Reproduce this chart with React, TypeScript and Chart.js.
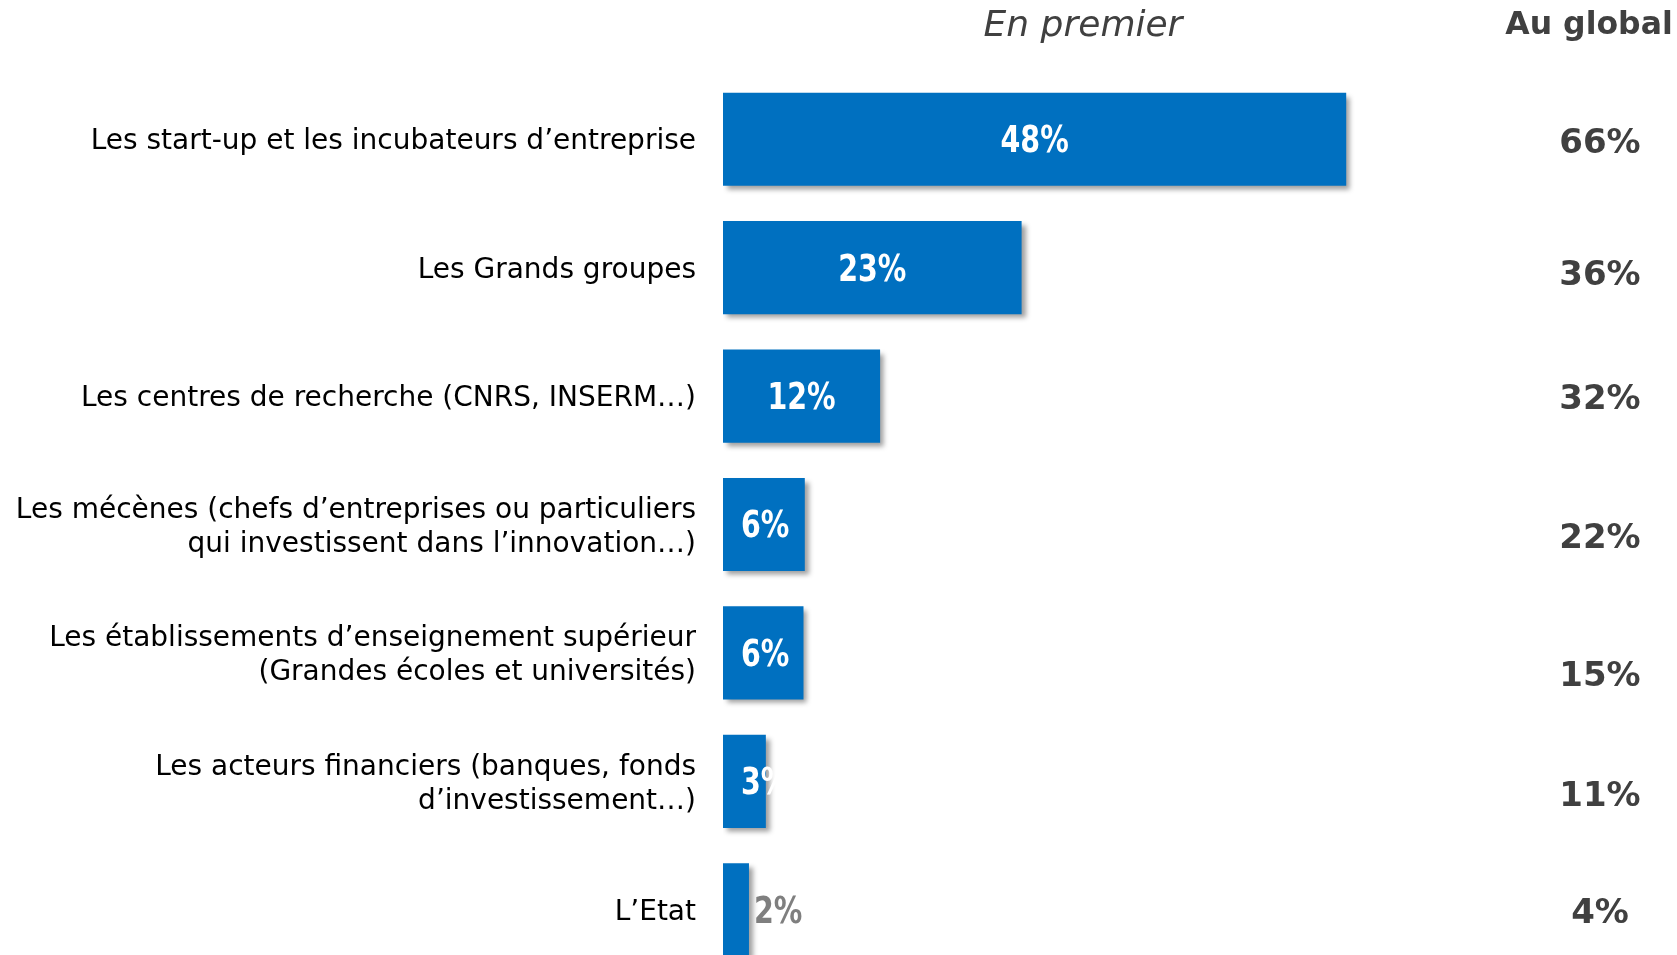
import React, { useEffect, useRef } from "react";
import { Chart, registerables } from "chart.js";

Chart.register(...registerables);

const categories: string[][] = [
  ["Les start-up et les incubateurs d’entreprise"],
  ["Les Grands groupes"],
  ["Les centres de recherche (CNRS, INSERM…)"],
  ["Les mécènes (chefs d’entreprises ou particuliers", "qui investissent dans l’innovation…)"],
  ["Les établissements d’enseignement supérieur", "(Grandes écoles et universités)"],
  ["Les acteurs financiers (banques, fonds", "d’investissement…)"],
  ["L’Etat"],
];
const firstValues: number[] = [48, 23, 12.1, 6.3, 6.2, 3.3, 2];
const firstLabels: string[] = ["48%", "23%", "12%", "6%", "6%", "3%", "2%"];
const globalLabels: string[] = ["66%", "36%", "32%", "22%", "15%", "11%", "4%"];
const headerFirst = "En premier";
const headerGlobal = "Au global";

// vertical nudges (px) of the "Au global" column, style only
const globalNudge: number[] = [1.5, 5.5, 1, 12, 21, 13, 1];

const BAR_COLOR = "#0070C0";

const overlayPlugin = {
  id: "overlay",
  beforeDatasetsDraw(chart: any) {
    const ctx = chart.ctx;
    ctx.save();
    ctx.shadowColor = "rgba(0,0,0,0.38)";
    ctx.shadowOffsetX = 4;
    ctx.shadowOffsetY = 4;
    ctx.shadowBlur = 5;
  },
  afterDatasetsDraw(chart: any) {
    chart.ctx.restore();
  },
  afterDraw(chart: any) {
    const ctx = chart.ctx;
    const meta = chart.getDatasetMeta(0);
    const yScale = chart.scales.y;
    ctx.save();
    // headers
    ctx.textBaseline = "middle";
    ctx.textAlign = "center";
    ctx.fillStyle = "#404040";
    ctx.font = "oblique 36px 'DejaVu Sans'";
    ctx.fillText(headerFirst, 1083, 27);
    ctx.font = "bold 31.5px 'DejaVu Sans'";
    ctx.fillText(headerGlobal, 1589, 26);

    categories.forEach((lines, i) => {
      const yc = yScale.getPixelForValue(i) + 3;
      // category labels
      ctx.font = "28px 'DejaVu Sans'";
      ctx.fillStyle = "#000000";
      ctx.textAlign = "right";
      ctx.textBaseline = "middle";
      const lh = 34;
      const start = yc - ((lines.length - 1) * lh) / 2;
      lines.forEach((ln, j) => ctx.fillText(ln, 696, start + j * lh));

      // bar value labels
      const bar = meta.data[i];
      const x0 = bar.base;
      const x1 = bar.x;
      ctx.font = "bold 38px 'DejaVu Sans'";
      const sx = 0.75;
      const w = ctx.measureText(firstLabels[i]).width * sx;
      ctx.save();
      ctx.textAlign = "left";
      if (firstValues[i] >= 2.5) {
        ctx.fillStyle = "#ffffff";
        const left = Math.max((x0 + x1) / 2 - w / 2, x0 + 18);
        ctx.translate(left, yc);
      } else {
        ctx.fillStyle = "#7f7f7f";
        ctx.translate(x1 + 5, yc);
      }
      ctx.scale(sx, 1);
      ctx.fillText(firstLabels[i], 0, 0);
      ctx.restore();

      // global column
      ctx.font = "bold 34px 'DejaVu Sans'";
      ctx.fillStyle = "#404040";
      ctx.textAlign = "center";
      ctx.fillText(globalLabels[i], 1600, yc + globalNudge[i]);
    });
    ctx.restore();
  },
};

export default function App() {
  const ref = useRef<HTMLCanvasElement | null>(null);
  useEffect(() => {
    if (!ref.current) return;
    const chart = new Chart(ref.current, {
      type: "bar",
      data: {
        labels: categories.map((c) => c.join(" ")),
        datasets: [
          {
            data: firstValues,
            backgroundColor: BAR_COLOR,
            borderWidth: 0,
            categoryPercentage: 1,
            barPercentage: 0.725,
          },
        ],
      },
      options: {
        indexAxis: "y",
        responsive: false,
        animation: false,
        devicePixelRatio: 1,
        layout: { padding: { left: 723, right: 175, top: 75, bottom: 6 } },
        plugins: { legend: { display: false }, tooltip: { enabled: false } },
        scales: {
          x: { display: false, min: 0, max: 60, grid: { display: false } },
          y: { display: false, grid: { display: false } },
        },
      },
      plugins: [overlayPlugin],
    });
    return () => chart.destroy();
  }, []);
  return (
    <div
      style={{
        position: "fixed",
        left: 0,
        top: 0,
        width: 1677,
        height: 955,
        overflow: "hidden",
        background: "#ffffff",
      }}
    >
      <canvas ref={ref} width={1677} height={980} style={{ display: "block" }} />
    </div>
  );
}
